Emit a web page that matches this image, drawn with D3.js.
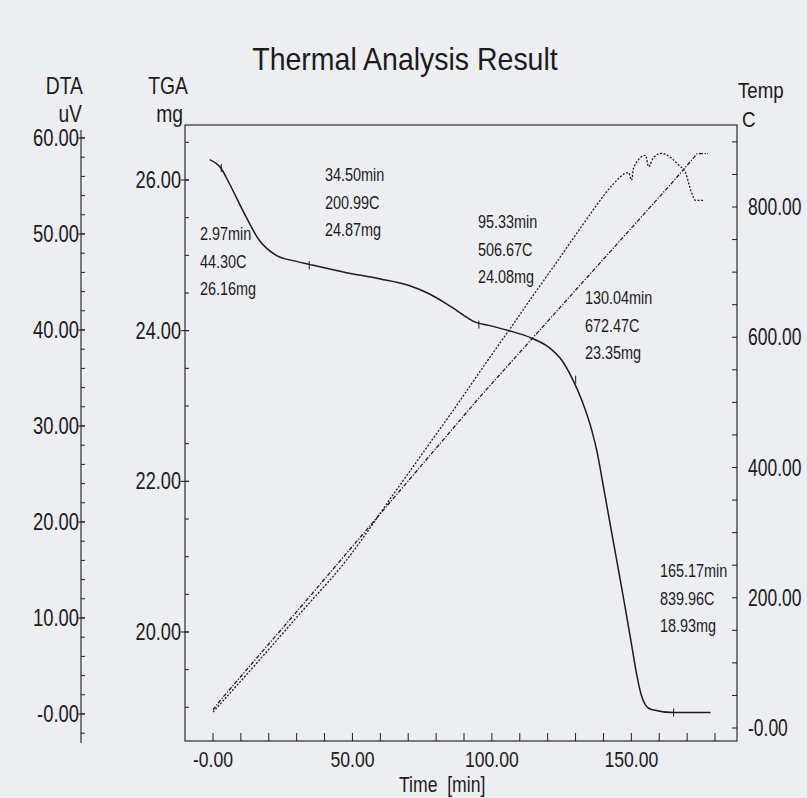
<!DOCTYPE html>
<html>
<head>
<meta charset="utf-8">
<script src="https://cdn.jsdelivr.net/npm/d3@7"></script>
<style>
  html, body { margin: 0; padding: 0; background: #eceef1; }
  svg { display: block; }
  text { font-family: "Liberation Sans", Arial, sans-serif; fill: #1c1c1c; }
</style>
</head>
<body>
<svg id="chart" width="807" height="798"></svg>
<script>
// ---- TGA curve (mass, mg) ----
const tgaTime = [-1.2, 3.0, 5.9, 12.0, 16.6, 22.7, 29.9, 34.5, 47.8, 59.6, 70.3, 77.5, 85.7, 94.3, 98.9,
  106.1, 114.3, 120.4, 125.0, 128.6, 132.2, 135.8, 137.6, 140.0, 142.9, 145.4, 147.9, 150.1, 152.0, 153.5,
  155.1, 157.2, 165.17, 178.4];
const tgaMass = [26.27, 26.15, 25.95, 25.50, 25.20, 25.00, 24.92, 24.88, 24.77, 24.69, 24.60, 24.49, 24.31, 24.11, 24.07,
  24.00, 23.90, 23.78, 23.61, 23.38, 23.08, 22.68, 22.41, 21.93, 21.33, 20.82, 20.30, 19.83, 19.42, 19.17,
  19.03, 18.97, 18.93, 18.93];

// ---- Furnace temperature (C) ----
const tempTime = [0, 2.97, 34.50, 95.33, 130.04, 165.17, 173.6, 177.5];
const tempC = [28, 44.30, 200.99, 506.67, 672.47, 839.96, 882, 882];

// ---- DTA signal (uV) ----
const dtaTime = [0, 16.6, 31.0, 47.8, 65.7, 75.0, 84.6, 98.9, 108.6, 114.3, 120.4, 132.2, 138.3, 142.9,
  149.0, 150.1, 150.8, 155.1, 156.2, 158.0, 160.8, 164.4, 166.9, 169.4, 171.6, 173.0, 175.8];
const dtaUV = [0.2, 5.6, 10.4, 16.0, 23.3, 27.1, 31.0, 37.0, 41.0, 43.4, 45.9, 50.8, 53.3, 55.0,
  56.4, 55.6, 56.9, 58.2, 57.0, 58.0, 58.4, 57.9, 57.2, 56.4, 54.3, 53.5, 53.5];

// ---- Marked points on the TGA curve ----
const markTime = [2.97, 34.50, 95.33, 130.04, 165.17];
const markTemp = [44.30, 200.99, 506.67, 672.47, 839.96];
const markMass = [26.16, 24.87, 24.08, 23.35, 18.93];

// ---- Axis ticks ----
const timeTicks = [0, 50, 100, 150];
const timeMinor = d3.range(0, 181, 10);
const tgaTicks = [20, 22, 24, 26];
const tgaMinor = d3.range(19, 26.51, 0.5);
const dtaTicks = [0, 10, 20, 30, 40, 50, 60];
const dtaMinor = d3.range(-2, 60.01, 2);
const tempTicks = [0, 200, 400, 600, 800];
const tempMinor = d3.range(0, 901, 50);

const svg = d3.select("#chart");
const ink = "#1c1c1c";

// Plot frame
const frame = { left: 185, right: 737, top: 125, bottom: 741 };

const x = d3.scaleLinear().domain([0, 180]).range([213, 715]);
const yTga = d3.scaleLinear().domain([20, 26]).range([632, 180]);
const yDta = d3.scaleLinear().domain([0, 60]).range([714, 138]);
const yTemp = d3.scaleLinear().domain([0, 800]).range([728, 207]);

const fmt = v => (v === 0 ? "-0.00" : d3.format(".2f")(v));

// Condensed text: horizontally squeezed sans-serif
function place(sel, fx, fy, sx) {
  return sel.attr("transform", (d, i) => `translate(${fx(d, i)},${fy(d, i)}) scale(${sx},1)`);
}
function label(parent, px, py, s, size, anchor, sx) {
  return parent.append("text")
    .attr("transform", `translate(${px},${py}) scale(${sx},1)`)
    .attr("text-anchor", anchor)
    .style("font-size", size + "px")
    .text(s);
}

// Title
label(svg, 405, 70, "Thermal Analysis Result", 32, "middle", 0.89);

// Frame
svg.append("rect")
  .attr("x", frame.left).attr("y", frame.top)
  .attr("width", frame.right - frame.left).attr("height", frame.bottom - frame.top)
  .attr("fill", "none").attr("stroke", ink).attr("stroke-width", 1.1);

// ---- Time axis (bottom), ticks pointing inward ----
const gx = svg.append("g");
gx.selectAll("line").data(timeMinor).join("line")
  .attr("x1", d => x(d)).attr("x2", d => x(d))
  .attr("y1", frame.bottom).attr("y2", frame.bottom - 8)
  .attr("stroke", ink).attr("stroke-width", 1);
place(gx.selectAll("text").data(timeTicks).join("text"), d => x(d), () => frame.bottom + 26, 0.8)
  .attr("text-anchor", "middle").style("font-size", "22px").text(fmt);
label(svg, 399, 792, "Time  [min]", 22, "start", 0.8).attr("xml:space", "preserve");

// ---- TGA axis (frame left) ----
const gt = svg.append("g");
gt.selectAll("line.minor").data(tgaMinor).join("line").attr("class", "minor")
  .attr("x1", frame.left).attr("x2", frame.left + 4)
  .attr("y1", d => yTga(d)).attr("y2", d => yTga(d))
  .attr("stroke", ink).attr("stroke-width", 1);
gt.selectAll("line.major").data(tgaTicks).join("line").attr("class", "major")
  .attr("x1", frame.left - 4).attr("x2", frame.left + 4)
  .attr("y1", d => yTga(d)).attr("y2", d => yTga(d))
  .attr("stroke", ink).attr("stroke-width", 1);
place(gt.selectAll("text").data(tgaTicks).join("text"), () => frame.left - 4, d => yTga(d) + 8, 0.79)
  .attr("text-anchor", "end").style("font-size", "23px").text(fmt);
label(svg, 188, 94, "TGA", 23, "end", 0.84);
label(svg, 183, 122, "mg", 23, "end", 0.84);

// ---- DTA axis (separate line on the far left) ----
const dtaX = 81;
const gd = svg.append("g");
gd.append("line").attr("x1", dtaX).attr("x2", dtaX).attr("y1", 130).attr("y2", 743)
  .attr("stroke", ink).attr("stroke-width", 1.1);
gd.selectAll("line.minor").data(dtaMinor).join("line").attr("class", "minor")
  .attr("x1", dtaX).attr("x2", dtaX + 4)
  .attr("y1", d => yDta(d)).attr("y2", d => yDta(d))
  .attr("stroke", ink).attr("stroke-width", 1);
gd.selectAll("line.major").data(dtaTicks).join("line").attr("class", "major")
  .attr("x1", dtaX - 3).attr("x2", dtaX + 4)
  .attr("y1", d => yDta(d)).attr("y2", d => yDta(d))
  .attr("stroke", ink).attr("stroke-width", 1);
place(gd.selectAll("text").data(dtaTicks).join("text"), () => dtaX - 2, d => yDta(d) + 8, 0.8)
  .attr("text-anchor", "end").style("font-size", "23px").text(fmt);
label(svg, 83, 94, "DTA", 23, "end", 0.84);
label(svg, 82, 122, "uV", 23, "end", 0.84);

// ---- Temperature axis (frame right), ticks pointing inward ----
const gr = svg.append("g");
gr.selectAll("line").data(tempMinor).join("line")
  .attr("x1", frame.right - 5).attr("x2", frame.right)
  .attr("y1", d => yTemp(d)).attr("y2", d => yTemp(d))
  .attr("stroke", ink).attr("stroke-width", 1);
place(gr.selectAll("text").data(tempTicks).join("text"), () => frame.right + 11, d => yTemp(d) + 8, 0.76)
  .style("font-size", "23px").text(fmt);
label(svg, 738, 98, "Temp", 22, "start", 0.85);
label(svg, 742, 127, "C", 22, "start", 0.85);

// ---- Curves ----
const tempLine = d3.line().x(d => x(d[0])).y(d => yTemp(d[1]));
svg.append("path").datum(d3.zip(tempTime, tempC))
  .attr("d", tempLine).attr("fill", "none").attr("stroke", ink)
  .attr("stroke-width", 1.3).attr("stroke-dasharray", "4,1.6,1.2,1.6");

const dtaLine = d3.line().x(d => x(d[0])).y(d => yDta(d[1])).curve(d3.curveMonotoneX);
svg.append("path").datum(d3.zip(dtaTime, dtaUV))
  .attr("d", dtaLine).attr("fill", "none").attr("stroke", ink)
  .attr("stroke-width", 1.3).attr("stroke-dasharray", "2,1.6");

const tgaLine = d3.line().x(d => x(d[0])).y(d => yTga(d[1])).curve(d3.curveMonotoneX);
svg.append("path").datum(d3.zip(tgaTime, tgaMass))
  .attr("d", tgaLine).attr("fill", "none").attr("stroke", ink).attr("stroke-width", 1.5);

// Small markers on the TGA curve at the annotated times
svg.append("g").selectAll("line").data(d3.zip(markTime, markMass)).join("line")
  .attr("x1", d => x(d[0])).attr("x2", d => x(d[0]))
  .attr("y1", d => yTga(d[1]) - 4).attr("y2", d => yTga(d[1]) + 4)
  .attr("stroke", ink).attr("stroke-width", 1);

// Annotation blocks: time / temperature / mass
const notePos = [[200, 233], [325, 174], [478, 221], [585, 297], [660, 570]];
const notes = svg.append("g");
markTime.forEach((t, i) => {
  const [nx, ny] = notePos[i];
  const lines = [d3.format(".2f")(t) + "min", d3.format(".2f")(markTemp[i]) + "C", d3.format(".2f")(markMass[i]) + "mg"];
  lines.forEach((s, j) => {
    label(notes, nx, ny + 7 + j * 27.5, s, 18.5, "start", 0.78);
  });
});
</script>
</body>
</html>
